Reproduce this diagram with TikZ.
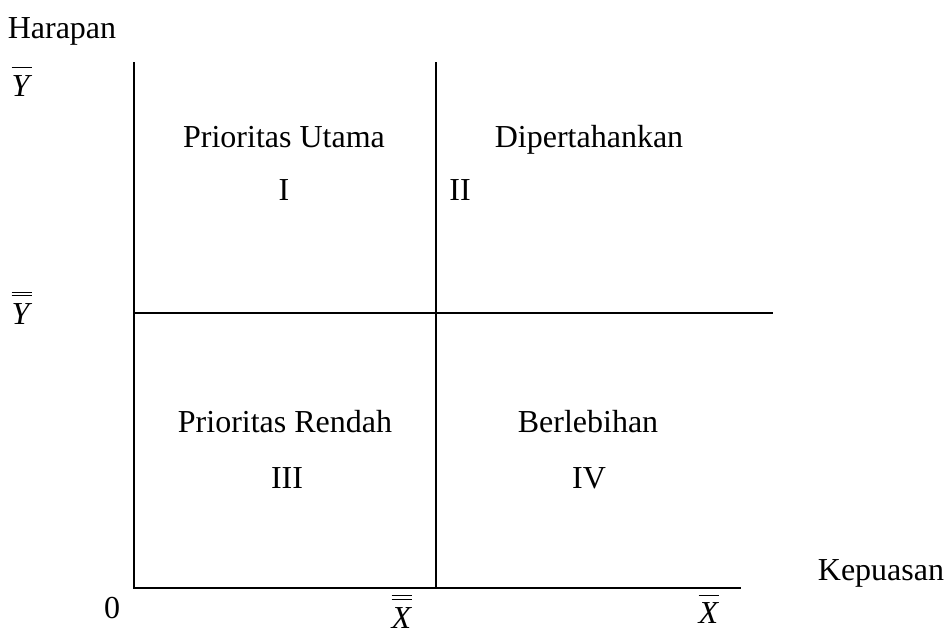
\documentclass[tikz,border=0pt]{standalone}
\usepackage{fontspec}
\setmainfont{Liberation Serif}
\newcommand\mybarone[2]{\vbox{\hrule height 0.5pt \vskip #2 \hbox{\textit{#1}}}}
\newcommand\mybartwo[3]{\vbox{\hrule height 0.5pt \vskip #2 \hrule height 0.5pt \vskip #3 \hbox{\textit{#1}}}}
\begin{document}
\begin{tikzpicture}[x=0.5pt,y=-0.5pt,
  ax/.style={line width=1pt},
  lbl/.style={font=\fontsize{16pt}{19pt}\selectfont, inner sep=0pt},
  bl/.style={lbl, anchor=base},
  ml/.style={lbl, anchor=north}]
\useasboundingbox (0,0) rectangle (946,634);
\coordinate (o) at (134,588);
\coordinate (ytop) at (134,62);
\coordinate (xend) at (741,588);
\coordinate (mtop) at (436,62);
\coordinate (mbot) at (436,588);
\coordinate (hl) at (134,313);
\coordinate (hr) at (773,313);
\draw[ax] (ytop) -- (o) -- (xend);
\draw[ax] (mtop) -- (mbot);
\draw[ax] (hl) -- (hr);
\node[lbl] (harapan) at (62,31) {Harapan};
\node[ml] (ybar) at (22,66.5) {\mybarone{Y}{3.6pt}};
\node[ml] (ybb) at (22,292) {\mybartwo{Y}{1pt}{3.4pt}};
\node[bl] (pu) at (284,147) {Prioritas Utama};
\node[bl] (q1) at (284,200) {I};
\node[bl] (dp) at (589,147) {Dipertahankan};
\node[bl] (q2) at (460,200) {II};
\node[bl] (pr) at (285,432) {Prioritas Rendah};
\node[bl] (q3) at (287,488) {III};
\node[bl] (bl) at (588,432) {Berlebihan};
\node[bl] (q4) at (589,488) {IV};
\node[lbl] (kep) at (881,573) {Kepuasan};
\node[lbl] (zero) at (112,608) {0};
\node[ml] (xbb) at (402,594.5) {\mybartwo{X}{1.5pt}{3.8pt}};
\node[ml] (xbar) at (709,594.5) {\mybarone{X}{3.5pt}};
\end{tikzpicture}
\end{document}
